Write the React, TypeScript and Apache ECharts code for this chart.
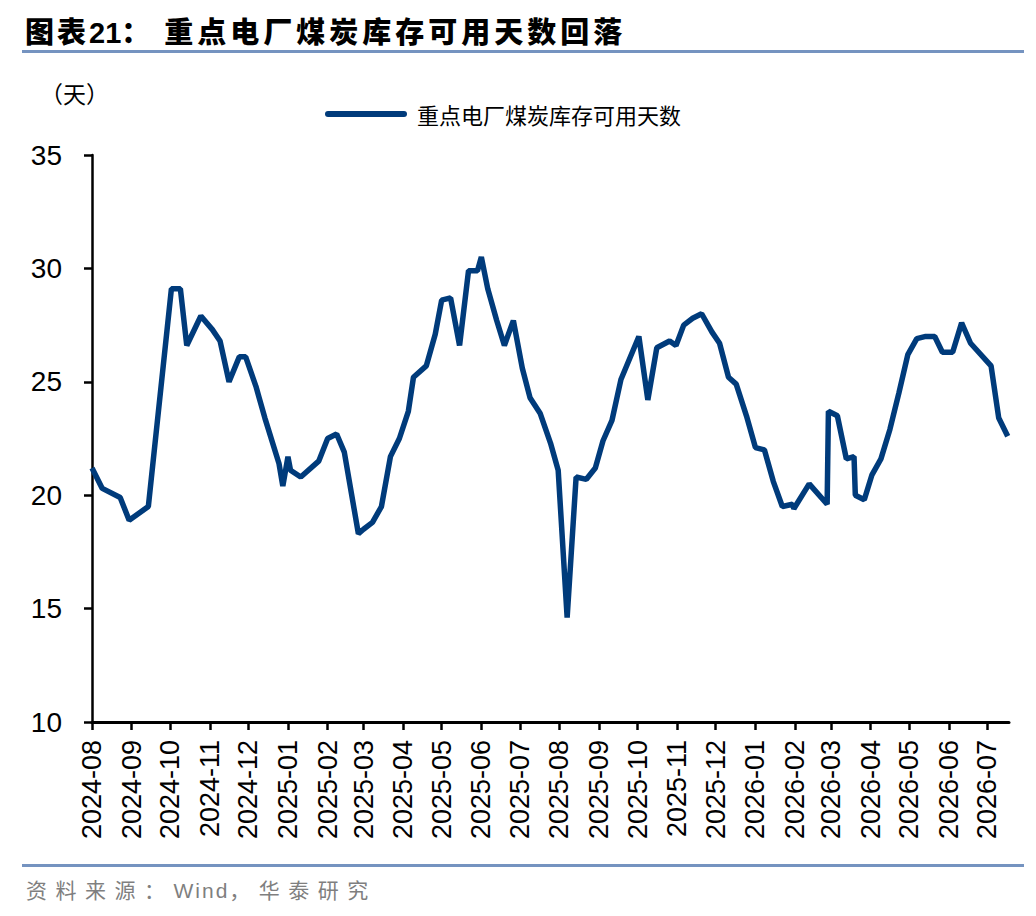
import React, { useEffect, useRef } from "react";
import * as echarts from "echarts";

const seriesName = "重点电厂煤炭库存可用天数";

const dates = [
    "2024-08-01", "2024-08-09", "2024-08-23", "2024-08-30", "2024-09-14",
    "2024-10-02", "2024-10-09", "2024-10-14", "2024-10-25", "2024-11-03",
    "2024-11-09", "2024-11-16", "2024-11-24", "2024-11-29", "2024-12-07",
    "2024-12-09", "2024-12-14", "2024-12-25", "2024-12-28", "2025-01-01",
    "2025-01-03", "2025-01-11", "2025-01-25", "2025-02-01", "2025-02-08",
    "2025-02-14", "2025-02-25", "2025-03-01", "2025-03-08", "2025-03-15",
    "2025-03-22", "2025-03-29", "2025-04-05", "2025-04-09", "2025-04-19",
    "2025-04-26", "2025-05-01", "2025-05-08", "2025-05-15", "2025-05-22",
    "2025-05-29", "2025-06-01", "2025-06-06", "2025-06-13", "2025-06-19",
    "2025-06-26", "2025-07-03", "2025-07-09", "2025-07-17", "2025-07-25",
    "2025-07-31", "2025-08-07", "2025-08-14", "2025-08-22", "2025-08-29",
    "2025-09-04", "2025-09-11", "2025-09-18", "2025-10-02", "2025-10-09",
    "2025-10-16", "2025-10-26", "2025-10-31", "2025-11-06", "2025-11-13",
    "2025-11-20", "2025-11-28", "2025-12-04", "2025-12-11", "2025-12-17",
    "2025-12-25", "2026-01-01", "2026-01-08", "2026-01-15", "2026-01-22",
    "2026-01-30", "2026-01-31", "2026-02-12", "2026-02-26", "2026-02-27",
    "2026-03-06", "2026-03-13", "2026-03-19", "2026-03-20", "2026-03-27",
    "2026-04-02", "2026-04-09", "2026-04-16", "2026-04-23", "2026-04-30",
    "2026-05-07", "2026-05-14", "2026-05-21", "2026-05-27", "2026-06-04",
    "2026-06-11", "2026-06-18", "2026-07-04", "2026-07-10", "2026-07-17",
];

const values = [
    21.2, 20.3, 19.9, 18.9, 19.5,
    29.1, 29.1, 26.6, 27.9, 27.3,
    26.8, 25.0, 26.1, 26.1, 24.8,
    24.4, 23.4, 21.4, 20.4, 21.7,
    21.1, 20.8, 21.5, 22.5, 22.7,
    21.9, 18.3, 18.5, 18.8, 19.5,
    21.7, 22.5, 23.7, 25.2, 25.7,
    27.1, 28.6, 28.7, 26.6, 29.9,
    29.9, 30.5, 29.1, 27.7, 26.6,
    27.7, 25.6, 24.3, 23.6, 22.3,
    21.1, 14.6, 20.8, 20.7, 21.2,
    22.4, 23.3, 25.1, 27.0, 24.2,
    26.5, 26.8, 26.6, 27.5, 27.8,
    28.0, 27.2, 26.7, 25.2, 24.9,
    23.5, 22.1, 22.0, 20.6, 19.5,
    19.6, 19.4, 20.5, 19.6, 23.7,
    23.5, 21.6, 21.7, 20.0, 19.8,
    20.9, 21.6, 22.9, 24.5, 26.2,
    26.9, 27.0, 27.0, 26.3, 26.3,
    27.6, 26.7, 25.7, 23.4, 22.6,
];

const monthTicks = [
    "2024-08", "2024-09", "2024-10", "2024-11", "2024-12",
    "2025-01", "2025-02", "2025-03", "2025-04", "2025-05", "2025-06",
    "2025-07", "2025-08", "2025-09", "2025-10", "2025-11", "2025-12",
    "2026-01", "2026-02", "2026-03", "2026-04", "2026-05", "2026-06",
    "2026-07",
];

const xStart = "2024-08-01";
const xEnd = "2026-07-18";
const yMin = 10;
const yMax = 35;
const yStep = 5;

const lineColor = "#003b7b";
const ruleColor = "#7593c0";
const cjkFont = "'Noto Sans CJK SC', sans-serif";
const numFont = "'Liberation Sans', Arial, sans-serif";

// whole days since xStart for "YYYY-MM-DD" or "YYYY-MM"
const dayOf = (s: string) => {
    const [y, m, d] = s.split("-").map(Number);
    const [y0, m0, d0] = xStart.split("-").map(Number);
    return Math.round((Date.UTC(y, m - 1, d || 1) - Date.UTC(y0, m0 - 1, d0)) / 86400000);
};

const tickDays = monthTicks.map(dayOf);

const App: React.FC = () => {
    const chartRef = useRef<HTMLDivElement>(null);

    useEffect(() => {
        if (!chartRef.current) return;
        const chart = echarts.init(chartRef.current, undefined, { renderer: "svg" });

        chart.setOption({
            animation: false,
            grid: { left: 92, top: 155, width: 917, height: 567, containLabel: false },
            legend: {
                left: 325,
                top: 101,
                padding: 0,
                itemWidth: 82,
                itemHeight: 6,
                icon: "path://M3,0 L79,0 A3,3 0 0 1 79,6 L3,6 A3,3 0 0 1 3,0 Z",
                textStyle: {
                    fontSize: 22,
                    fontFamily: cjkFont,
                    color: "#000",
                    lineHeight: 26,
                    padding: [0, 0, 0, 5],
                },
                data: [seriesName],
            },
            graphic: [
                {
                    type: "text",
                    left: 40,
                    top: 81,
                    style: {
                        text: "（天）",
                        fontSize: 23,
                        fontFamily: "'Noto Sans CJK TC', 'Noto Sans CJK SC', sans-serif",
                        fill: "#000",
                    },
                },
            ],
            xAxis: {
                type: "value",
                min: 0,
                max: dayOf(xEnd),
                axisLine: { show: true, onZero: false, lineStyle: { color: "#000", width: 3 } },
                axisTick: {
                    show: true,
                    inside: false,
                    length: 8,
                    lineStyle: { color: "#000", width: 2.5 },
                    customValues: tickDays,
                },
                axisLabel: {
                    rotate: 90,
                    margin: 18,
                    fontSize: 27,
                    fontFamily: numFont,
                    color: "#000",
                    customValues: tickDays,
                    formatter: (v: number) => {
                        const i = tickDays.indexOf(Math.round(v));
                        return i >= 0 ? monthTicks[i] : "";
                    },
                },
                splitLine: { show: false },
            },
            yAxis: {
                type: "value",
                min: yMin,
                max: yMax,
                interval: yStep,
                axisLine: { show: true, lineStyle: { color: "#000", width: 2.5 } },
                axisTick: { show: true, length: 8, lineStyle: { color: "#000", width: 2.5 } },
                axisLabel: {
                    margin: 30,
                    fontSize: 28,
                    fontFamily: numFont,
                    color: "#000",
                },
                splitLine: { show: false },
            },
            series: [
                {
                    name: seriesName,
                    type: "line",
                    showSymbol: false,
                    symbol: "none",
                    lineStyle: { color: lineColor, width: 5.5 },
                    itemStyle: { color: lineColor },
                    data: dates.map((d, i) => [dayOf(d), values[i]]),
                },
            ],
        });

        return () => {
            chart.dispose();
        };
    }, []);

    return (
        <div
            style={{
                position: "absolute",
                left: 0,
                top: 0,
                width: 1036,
                height: 916,
                background: "#fff",
                overflow: "hidden",
            }}
        >
            <div ref={chartRef} style={{ position: "absolute", left: 0, top: 0, width: 1036, height: 916 }} />
            <div
                style={{
                    position: "absolute",
                    left: 25,
                    top: 13,
                    fontSize: 29,
                    lineHeight: "34px",
                    fontWeight: 900,
                    fontFamily: cjkFont,
                    whiteSpace: "nowrap",
                    color: "#000",
                }}
            >
                <span style={{ letterSpacing: 3 }}>图表</span>
                <span style={{ fontFamily: numFont, fontWeight: 700 }}>21</span>
                <span>：</span>
                <span style={{ marginLeft: 14, letterSpacing: 4 }}>重点电厂煤炭库存可用天数回落</span>
            </div>
            <div style={{ position: "absolute", left: 22, top: 50, width: 1002, height: 3, background: ruleColor }} />
            <div style={{ position: "absolute", left: 22, top: 864, width: 1002, height: 3, background: ruleColor }} />
            <div
                style={{
                    position: "absolute",
                    left: 26,
                    top: 876,
                    fontSize: 21,
                    lineHeight: "26px",
                    fontFamily: cjkFont,
                    color: "#7f7f7f",
                    whiteSpace: "nowrap",
                }}
            >
                <span style={{ letterSpacing: 8.5 }}>资料来源：</span>
                <span style={{ fontFamily: numFont, letterSpacing: 2 }}>Wind</span>
                <span style={{ letterSpacing: 8.5 }}>，华泰研究</span>
            </div>
        </div>
    );
};

export default App;
